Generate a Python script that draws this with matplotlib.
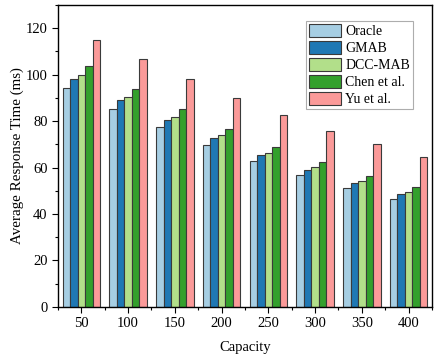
import matplotlib
matplotlib.use("Agg")
import matplotlib.pyplot as plt
import numpy as np
from matplotlib.ticker import MultipleLocator, FixedLocator

plt.rcParams['font.family'] = ['Liberation Serif', 'DejaVu Serif']

capacities = ['50', '100', '150', '200', '250', '300', '350', '400']
oracle = [94.3, 85.4, 77.5, 69.7, 62.7, 56.8, 51.2, 46.6]
gmab = [98.2, 89.0, 80.5, 72.7, 65.5, 58.9, 53.3, 48.6]
dcc_mab = [99.9, 90.4, 81.9, 73.9, 66.4, 60.1, 54.2, 49.5]
chen = [103.6, 93.9, 85.1, 76.6, 69.0, 62.4, 56.4, 51.5]
yu = [115.1, 106.8, 98.0, 90.1, 82.8, 75.8, 70.0, 64.7]

series = [('Oracle', oracle, '#a6cee3'),
          ('GMAB', gmab, '#1f78b4'),
          ('DCC-MAB', dcc_mab, '#b2df8a'),
          ('Chen et al.', chen, '#33a02c'),
          ('Yu et al.', yu, '#fb9a99')]

fig = plt.figure(figsize=(4.39, 3.56), dpi=100)
ax = fig.add_axes([0.132, 0.138, 0.852, 0.848])

x = np.arange(len(capacities))
w = 0.16
for i, (name, vals, col) in enumerate(series):
    ax.bar(x + (i - 2) * w, vals, width=w, color=col, edgecolor='#3a3a3a',
           linewidth=0.8, label=name)

ax.set_xlim(-0.5, 7.5)
ax.set_ylim(0, 130)
ax.set_xticks(x)
ax.set_xticklabels(capacities)
ax.xaxis.set_minor_locator(FixedLocator(np.arange(-0.5, 8, 1)))
ax.yaxis.set_major_locator(MultipleLocator(20))
ax.yaxis.set_minor_locator(MultipleLocator(10))
ax.tick_params(which='major', direction='out', length=4, width=0.8, labelsize=10.5)
ax.tick_params(which='minor', direction='out', length=2, width=0.8)
for s in ax.spines.values():
    s.set_linewidth(1.0)

ax.set_xlabel('Capacity', fontsize=10.5, labelpad=8)
ax.set_ylabel('Average Response Time (ms)', fontsize=10.8, labelpad=1)

leg = ax.legend(loc='upper right', bbox_to_anchor=(0.96, 0.96), fontsize=10,
                frameon=True, fancybox=False, edgecolor='#999999',
                handlelength=2.3, handleheight=1.1, handletextpad=0.3,
                labelspacing=0.18, borderpad=0.2, borderaxespad=0.3)
leg.get_frame().set_linewidth(0.8)

fig.savefig('out.png', dpi=100)
